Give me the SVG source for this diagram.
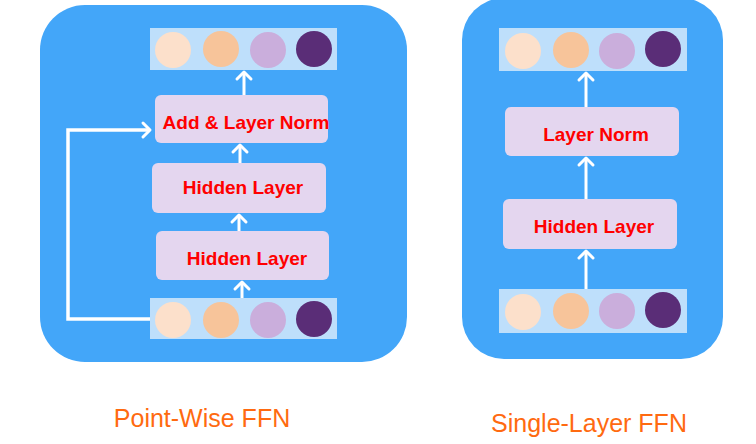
<svg xmlns="http://www.w3.org/2000/svg" width="756" height="444" viewBox="0 0 756 444">
<style>
.panel{fill:#43A6F9}
.strip{fill:#BEDFFB}
.box{fill:#E4D6EF}
.c1{fill:#FCE0CB}.c2{fill:#F7C49A}.c3{fill:#CAAEDC}.c4{fill:#5A2D77}
.lbl{font-family:"Liberation Sans",Arial,sans-serif;font-weight:bold;font-size:19px;fill:#FF0000;text-anchor:middle}
.cap{font-family:"Liberation Sans",Arial,sans-serif;font-size:25px;fill:#FF6A10;text-anchor:middle}
.conn{stroke:#FFFFFF;stroke-width:3;fill:none;marker-end:url(#ah)}
.skip{stroke:#FFFFFF;stroke-width:3.5;fill:none;stroke-linejoin:miter;marker-end:url(#ah)}
</style>
<defs>
<marker id="ah" viewBox="-10 -10 20 20" markerUnits="userSpaceOnUse" markerWidth="20" markerHeight="20" refX="0" refY="0" orient="auto">
<path d="M-7,-7 L0,0 L-7,7" stroke="#FFFFFF" stroke-width="3" fill="none" stroke-linecap="round" stroke-linejoin="round"/>
</marker>
</defs>
<rect width="756" height="444" fill="#FFFFFF"/>
<g id="panel-left"><rect class="panel" x="40" y="5" width="367" height="357" rx="45"/></g>
<g id="panel-right"><rect class="panel" x="462" y="-2" width="261" height="361" rx="42"/></g>

<g id="left-out">
<rect class="strip" x="150" y="28" width="187" height="42"/>
<circle class="c1" cx="173" cy="50" r="18"/><circle class="c2" cx="221" cy="49" r="18"/><circle class="c3" cx="268" cy="50" r="18"/><circle class="c4" cx="314" cy="49" r="18"/>
</g>
<g id="left-addnorm"><rect class="box" x="155" y="95" width="173" height="48" rx="6"/><text class="lbl" x="246" y="129">Add &amp; Layer Norm</text></g>
<g id="left-hidden1"><rect class="box" x="152" y="163" width="174" height="50" rx="6"/><text class="lbl" x="243" y="194">Hidden Layer</text></g>
<g id="left-hidden2"><rect class="box" x="156" y="231" width="173" height="49" rx="6"/><text class="lbl" x="247" y="265">Hidden Layer</text></g>
<g id="left-in">
<rect class="strip" x="150" y="298" width="187" height="41"/>
<circle class="c1" cx="173" cy="320" r="18"/><circle class="c2" cx="221" cy="320" r="18"/><circle class="c3" cx="268" cy="320" r="18"/><circle class="c4" cx="314" cy="319" r="18"/>
</g>

<g id="right-out">
<rect class="strip" x="499" y="28" width="188" height="43"/>
<circle class="c1" cx="523" cy="51" r="18"/><circle class="c2" cx="571" cy="50" r="18"/><circle class="c3" cx="617" cy="51" r="18"/><circle class="c4" cx="663" cy="49" r="18"/>
</g>
<g id="right-norm"><rect class="box" x="505" y="107" width="174" height="49" rx="6"/><text class="lbl" x="596" y="141">Layer Norm</text></g>
<g id="right-hidden"><rect class="box" x="503" y="199" width="174" height="50" rx="6"/><text class="lbl" x="594" y="233">Hidden Layer</text></g>
<g id="right-in">
<rect class="strip" x="499" y="289" width="188" height="44"/>
<circle class="c1" cx="523" cy="312" r="18"/><circle class="c2" cx="571" cy="311" r="18"/><circle class="c3" cx="617" cy="311" r="18"/><circle class="c4" cx="663" cy="310" r="18"/>
</g>

<g id="connectors">
<line class="conn" x1="242" y1="298" x2="242" y2="282"/>
<line class="conn" x1="239" y1="231" x2="239" y2="215"/>
<line class="conn" x1="240" y1="163" x2="240" y2="145"/>
<line class="conn" x1="244" y1="95" x2="244" y2="72"/>
<polyline class="skip" points="150,319 68,319 68,130 150,130"/>
<line class="conn" x1="586" y1="289" x2="586" y2="251"/>
<line class="conn" x1="586" y1="199" x2="586" y2="158"/>
<line class="conn" x1="586" y1="107" x2="586" y2="73"/>
</g>

<text class="cap" x="202" y="427">Point-Wise FFN</text>
<text class="cap" x="589" y="432">Single-Layer FFN</text>
</svg>
